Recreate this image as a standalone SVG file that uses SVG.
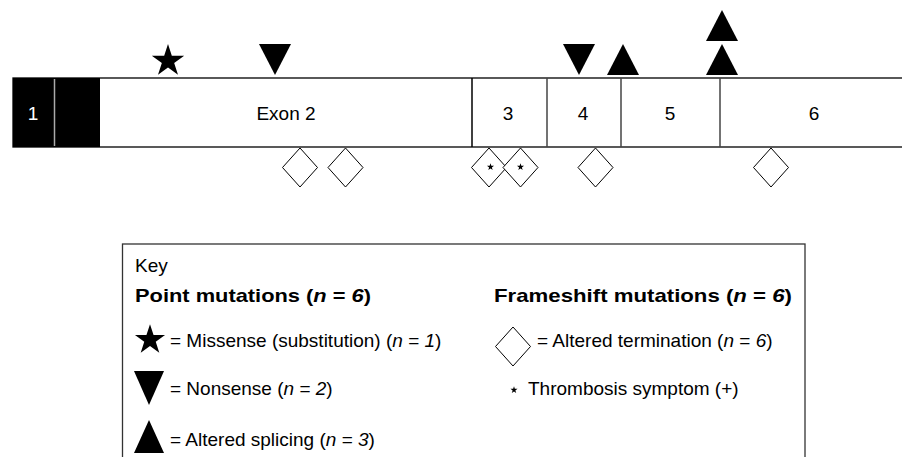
<svg xmlns="http://www.w3.org/2000/svg" width="902" height="457" viewBox="0 0 902 457">
<style>
text{font-family:"Liberation Sans",Arial,sans-serif;font-size:19px;fill:#000}
.c{text-anchor:middle}
.b{font-weight:bold}
.i{font-style:italic}
.ex{fill:#fff;stroke:#000;stroke-width:1.3}
.div{stroke:#444;stroke-width:1.5}
.dia{fill:#fff;stroke:#000;stroke-width:1}
.key{fill:#fff;stroke:#333;stroke-width:1.3}
</style>
<defs>
<path id="star" d="M0,-17 L3.815,-5.25 L16.17,-5.25 L6.17,2.006 L9.99,13.75 L0,6.49 L-9.99,13.75 L-6.17,2.006 L-16.17,-5.25 L-3.815,-5.25 Z" fill="#000"/>
<path id="tdown" d="M-16,0 L16,0 L0,31 Z" fill="#000"/>
<path id="tup" d="M-16,31 L16,31 L0,0 Z" fill="#000"/>
<path id="dia" class="dia" d="M0,-19.5 L17.5,0 L0,19.5 L-17.5,0 Z"/>
</defs>

<g id="gene">
<rect class="ex" x="13" y="78" width="900" height="69"/>
<g id="exon1">
<rect x="13" y="78" width="87" height="69" fill="#000"/>
<line x1="54.5" y1="79" x2="54.5" y2="146" stroke="#aaa" stroke-width="1.5"/>
<text class="c" x="33" y="120" style="fill:#fff">1</text>
</g>
<g id="exon2"><text class="c" x="286" y="120">Exon 2</text></g>
<g id="exon3"><line class="div" x1="472" y1="78" x2="472" y2="147" style="stroke:#000"/><text class="c" x="508" y="120">3</text></g>
<g id="exon4"><line class="div" x1="547" y1="78" x2="547" y2="147"/><text class="c" x="583" y="120">4</text></g>
<g id="exon5"><line class="div" x1="621" y1="78" x2="621" y2="147"/><text class="c" x="670" y="120">5</text></g>
<g id="exon6"><line class="div" x1="720" y1="78" x2="720" y2="147"/><text class="c" x="814" y="120">6</text></g>
</g>

<g id="point-mutations">
<use href="#star" x="168" y="61"/>
<use href="#tdown" x="275" y="44"/>
<use href="#tdown" x="579" y="44"/>
<use href="#tup" x="623" y="44"/>
<use href="#tup" x="722" y="10"/>
<use href="#tup" x="722" y="44"/>
</g>

<g id="frameshift-mutations">
<use href="#dia" x="300" y="167.5"/>
<use href="#dia" x="345.5" y="167.5"/>
<use href="#dia" x="489" y="167.5"/>
<use href="#dia" x="520.5" y="167.5"/>
<use href="#star" transform="translate(490.5,167) scale(0.22)"/>
<use href="#star" transform="translate(520.5,167) scale(0.22)"/>
<use href="#dia" x="595.5" y="167.5"/>
<use href="#dia" x="771" y="167.5"/>
</g>

<g id="key">
<rect class="key" x="122.5" y="244" width="682.5" height="240"/>
<text x="135" y="272">Key</text>
<text class="b" x="135" y="302" textLength="236" lengthAdjust="spacingAndGlyphs">Point mutations (<tspan class="i">n</tspan> = <tspan class="i">6</tspan>)</text>
<use href="#star" transform="translate(150,340) scale(0.93)"/>
<text x="170" y="347">= Missense (substitution) (<tspan class="i">n</tspan> = <tspan class="i">1</tspan>)</text>
<path d="M134,371 L164,371 L149,405 Z" fill="#000"/>
<text x="170" y="395">= Nonsense (<tspan class="i">n</tspan> = <tspan class="i">2</tspan>)</text>
<path d="M134,453 L164,453 L149,420 Z" fill="#000"/>
<text x="170" y="446">= Altered splicing (<tspan class="i">n</tspan> = <tspan class="i">3</tspan>)</text>
<text class="b" x="494" y="302" textLength="298" lengthAdjust="spacingAndGlyphs">Frameshift mutations (<tspan class="i">n</tspan> = <tspan class="i">6</tspan>)</text>
<use href="#dia" x="513" y="346.5"/>
<text x="537" y="347">= Altered termination (<tspan class="i">n</tspan> = <tspan class="i">6</tspan>)</text>
<use href="#star" transform="translate(514,390) scale(0.22)"/>
<text x="528" y="395">Thrombosis symptom (+)</text>
</g>
</svg>
